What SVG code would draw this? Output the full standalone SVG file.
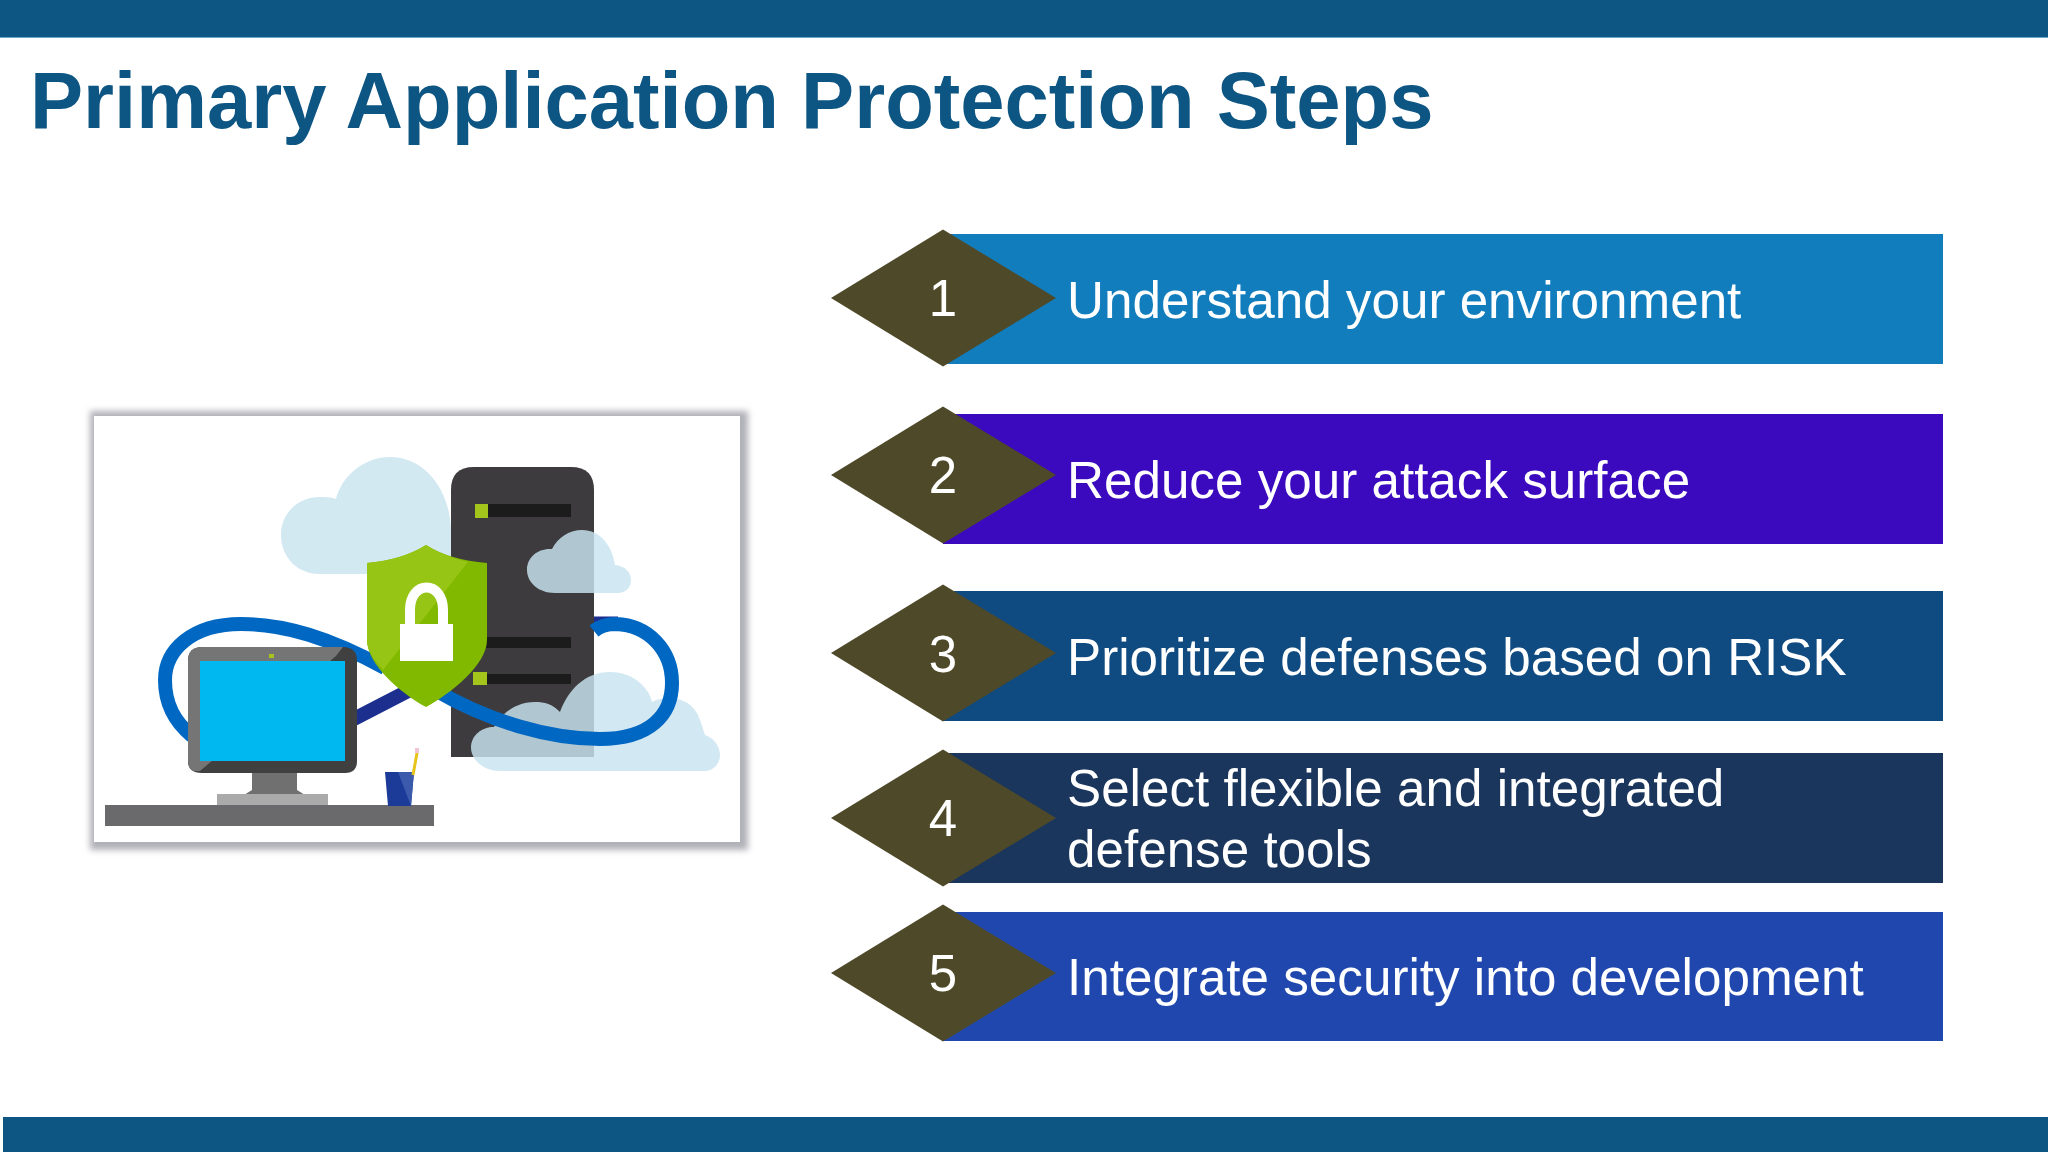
<svg xmlns="http://www.w3.org/2000/svg" width="2048" height="1152" viewBox="0 0 2048 1152">
<style>
.t{font-family:"Liberation Sans",Arial,sans-serif;fill:#fff;font-size:51.2px}
.n{font-family:"Liberation Sans",Arial,sans-serif;fill:#fff;font-size:51px;text-anchor:middle}
.d{fill:#4e4929}
.c{fill:rgb(201,229,240);fill-opacity:.826}
.bar{fill:#1c1c1e}
.led{fill:#a4c51d}
</style>
<defs>
<filter id="sh" x="-5%" y="-5%" width="110%" height="110%"><feGaussianBlur stdDeviation="3"/></filter>
<filter id="soft" x="-2%" y="-2%" width="104%" height="104%"><feGaussianBlur stdDeviation="0.7"/></filter>
<path id="dia" d="M-112 0L0-68.500L113 0L0 68.500Z"/>
</defs>
<rect width="2048" height="1152" fill="#fff"/>
<g id="header">
<rect width="2048" height="37" fill="#0d5582"/>
<rect y="37" width="2048" height="1" fill="#6fa8cc"/>
<rect x="3" y="1117" width="2045" height="35" fill="#0d5582"/>
<text x="30" y="128" font-family="Liberation Sans,Arial,sans-serif" font-weight="700" font-size="79.600" fill="#0d5582">Primary Application Protection Steps</text>
</g>
<g id="illustration">
<rect x="90" y="411" width="658" height="439" fill="#b0b0b8" filter="url(#sh)"/>
<rect x="94" y="416" width="646" height="426" fill="#fff"/>
<g filter="url(#soft)">
<path d="M320 574C296 574 281 556 281 535C281 513 298 497 320 497C325 497 330 497 336 499C342 475 365 457 390 457C425 457 450 490 451 530V574Z" fill="#d2e9f2"/>
<path d="M451 490Q451 467 474 467H571Q594 467 594 490V757H451Z" fill="#3c3b3d"/>
<rect class="bar" x="488" y="504" width="83" height="13"/><rect class="led" x="475" y="504" width="13" height="14"/>
<rect class="bar" x="486" y="637" width="85" height="11"/>
<rect class="bar" x="487" y="674" width="84" height="10"/><rect class="led" x="473" y="672" width="14" height="13"/>
<path class="c" d="M555 593C538 593 527 582 527 570C527 557 538 548 552 549C558 537 570 530 582 530C600 530 612 545 615 565C625 566 631 572 631 580C631 588 625 593 618 593Z"/>
<path class="c" d="M500 771C482 771 471 758 471 748C471 735 482 727 494 727C500 715 515 702 535 702C545 702 552 704 560 712C568 690 585 672 610 672C635 672 650 690 652 702C665 695 692 695 700 720C703 728 704 732 705 735C715 738 720 748 720 755C720 765 712 771 705 771Z"/>
<path d="M350 721L410 690" stroke="#1b2f8e" stroke-width="14" fill="none"/>
<path d="M594 623H618" stroke="#1b2f8e" stroke-width="13" fill="none"/>
<path d="M385 668C330 638 285 624 241 624C192 624 165 650 165 680C165 705 175 722 192 736" stroke="#0668c2" stroke-width="14" fill="none"/>
<path d="M435 690C490 722 550 739 600 739C650 739 672 715 672 683C672 650 648 625 616 624C606 624 600 626 594 631" stroke="#0668c2" stroke-width="14" fill="none"/>
<path d="M367 563Q402 560 426 545Q450 560 487 563V640C487 665 450 694 426 707C402 694 367 665 367 640Z" fill="#80b900"/>
<path d="M367 563Q402 560 426 545Q445 557 468 562L383 670C374 660 367 650 367 640Z" fill="#97c512"/>
<path d="M410 624V610C410 580 443 580 443 610V624" fill="none" stroke="#fff" stroke-width="10"/>
<rect x="400" y="624" width="53" height="37" fill="#fff"/>
<path d="M188 661Q188 647 202 647H343Q357 647 357 661V761Q357 773 345 773H202Q188 773 188 761Z" fill="#3f3f3f"/>
<path d="M188 661Q188 647 202 647H343L336 656L200 771Q188 773 188 761Z" fill="#747474"/>
<rect x="200" y="661" width="145" height="100" fill="#00b8f0"/>
<rect x="269" y="654" width="5" height="4" fill="#a4c51d"/>
<path d="M252 773H297V790L305 795H244L252 790Z" fill="#707070"/>
<rect x="217" y="794" width="111" height="12" fill="#aaa"/>
<rect x="105" y="805" width="329" height="21" fill="#6b6b6d"/>
<path d="M385 772H414L411 806H388Z" fill="#1c3a98"/>
<path d="M398 772H414L411 806Z" fill="#3a5aab"/>
<path d="M413 775L417 753" stroke="#e8c31c" stroke-width="3"/>
<rect x="415" y="748" width="4" height="5" fill="#f0c4d0"/>
</g>
</g>
<g id="step1"><rect x="943" y="234" width="1000" height="130" fill="#127dbd"/><use href="#dia" class="d" x="943" y="298"/><text class="n" x="943" y="316">1</text><text class="t" x="1067" y="318">Understand your environment</text></g>
<g id="step2"><rect x="943" y="414" width="1000" height="130" fill="#3b0abf"/><use href="#dia" class="d" x="943" y="475"/><text class="n" x="943" y="493">2</text><text class="t" x="1067" y="498">Reduce your attack surface</text></g>
<g id="step3"><rect x="943" y="591" width="1000" height="130" fill="#0f4a80"/><use href="#dia" class="d" x="943" y="653"/><text class="n" x="943" y="672">3</text><text class="t" x="1067" y="675">Prioritize defenses based on RISK</text></g>
<g id="step4"><rect x="943" y="753" width="1000" height="130" fill="#1a365d"/><use href="#dia" class="d" x="943" y="818"/><text class="n" x="943" y="836">4</text><text class="t" x="1067" y="806">Select flexible and integrated</text><text class="t" x="1067" y="867">defense tools</text></g>
<g id="step5"><rect x="943" y="912" width="1000" height="129" fill="#1f47ae"/><use href="#dia" class="d" x="943" y="973"/><text class="n" x="943" y="991">5</text><text class="t" x="1067" y="995">Integrate security into development</text></g>
</svg>
